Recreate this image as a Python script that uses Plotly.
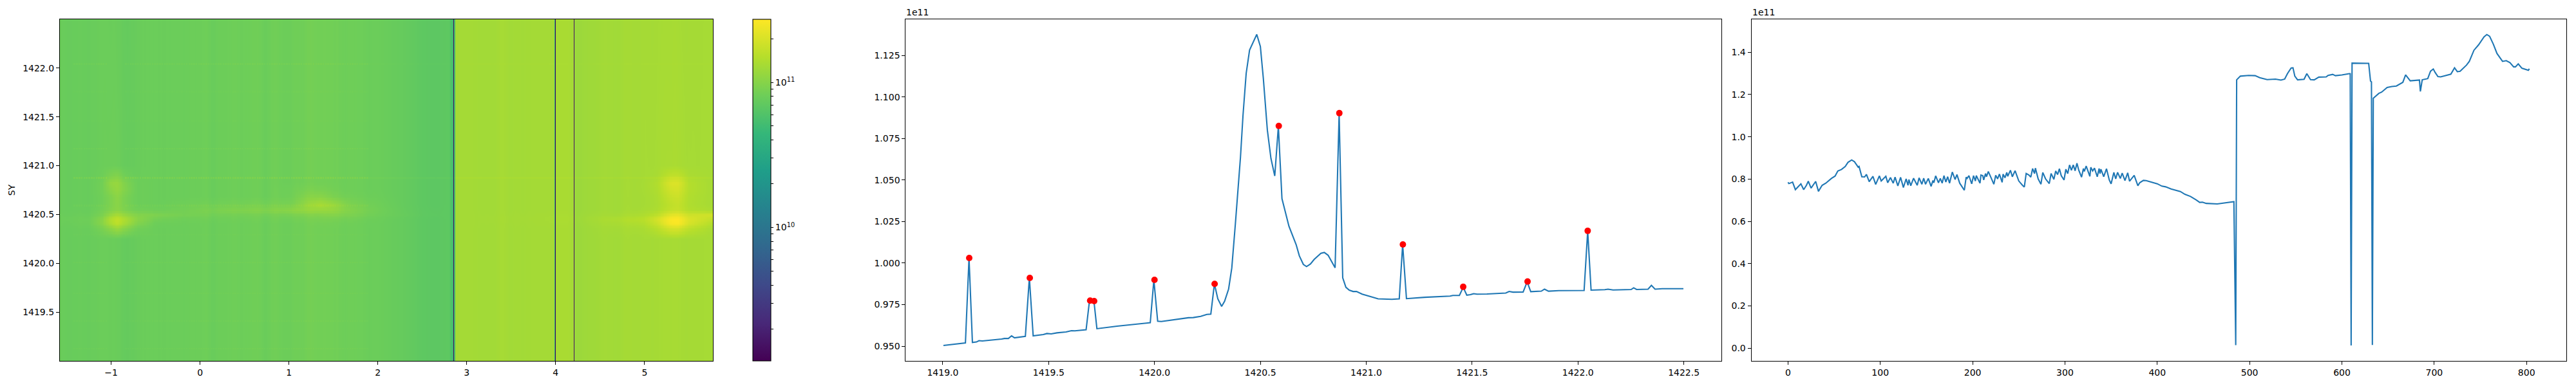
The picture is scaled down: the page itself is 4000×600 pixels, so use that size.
import numpy as np
import plotly.graph_objects as go

# ---------- column profile (middle panel), values in units of 1e11 ----------
col_x = [1419.003,1419.107,1419.124,1419.14,1419.159,1419.171,1419.187,1419.231,1419.278,1419.291,1419.31,1419.325,1419.339,1419.39,1419.409,1419.427,1419.475,1419.492,1419.512,1419.539,1419.582,1419.608,1419.624,1419.677,1419.693,1419.714,1419.728,1419.823,1419.98,1419.997,1420.015,1420.032,1420.16,1420.183,1420.218,1420.247,1420.266,1420.283,1420.299,1420.317,1420.331,1420.35,1420.365,1420.382,1420.393,1420.406,1420.418,1420.424,1420.433,1420.449,1420.483,1420.5,1420.514,1420.533,1420.55,1420.568,1420.585,1420.602,1420.635,1420.669,1420.684,1420.703,1420.718,1420.737,1420.754,1420.786,1420.802,1420.82,1420.853,1420.872,1420.889,1420.904,1420.92,1420.938,1420.954,1420.981,1421.005,1421.028,1421.056,1421.09,1421.121,1421.156,1421.172,1421.19,1421.276,1421.396,1421.409,1421.44,1421.458,1421.475,1421.492,1421.508,1421.523,1421.57,1421.659,1421.675,1421.693,1421.741,1421.76,1421.777,1421.827,1421.842,1421.861,1421.91,1422.029,1422.046,1422.062,1422.127,1422.142,1422.166,1422.251,1422.263,1422.277,1422.331,1422.347,1422.364,1422.398,1422.498]
col_v = [.9504,.9519,1.0031,.9522,.9525,.9533,.9531,.9536,.9543,.9546,.9546,.9562,.9550,.9559,.9911,.9562,.9570,.9576,.9574,.9580,.9585,.9593,.9592,.9599,.9774,.9771,.9605,.9620,.9641,.9899,.9650,.9648,.9671,.9672,.9679,.9691,.9693,.9875,.9785,.9739,.9770,.9844,.9970,1.0237,1.0415,1.0637,1.0890,1.1008,1.1142,1.1283,1.1377,1.1305,1.1112,1.0801,1.0630,1.0525,1.0823,1.0388,1.0222,1.0111,1.0044,.9992,.9979,.9995,1.0022,1.0059,1.0064,1.0047,.9972,1.0901,.9911,.9854,.9837,.9829,.9829,.9813,.9805,.9795,.9785,.9783,.9782,.9785,1.0111,.9786,.9794,.9801,.9805,.9805,.9854,.9807,.9810,.9816,.9813,.9814,.9820,.9829,.9825,.9826,.9887,.9828,.9831,.9843,.9831,.9834,.9835,1.0193,.9837,.9840,.9843,.9838,.9841,.9851,.9841,.9843,.9866,.9843,.9846,.9846]

# ---------- detected peaks (red dots) ----------
peak_x = [1419.125,1419.411,1419.696,1419.715,1420.0,1420.284,1420.587,1420.873,1421.173,1421.458,1421.762,1422.046]
peak_v = [1.0031,.9911,.9774,.9771,.9899,.9875,1.0826,1.0903,1.0112,.9857,.9889,1.0194]

# ---------- row profile (right panel), values in units of 1e11 ----------
row_x = [0,1,5,8,14,17,20,22,25,30,33,37,41,47,51,54,58,62,65,69,72,76,77,80,83,85,88,92,95,99,101,106,108,111,114,116,119,122,125,128,130,131,133,136,140,142,145,147,149,
152,155,157,158,160,163,165,167,169,171,173,175,178,181,183,186,191,193,194,196,199,201,203,204,208,209,211,212,214,215,217,220,223,225,227,229,232,233,235,237,238,241,243,246,250,254,256,258,261,263,265,267,268,271,274,276,279,283,285,288,290,292,
294,296,299,301,303,305,307,309,311,313,315,318,320,321,323,327,328,330,332,335,337,338,339,342,345,348,350,353,355,357,360,362,365,368,370,375,379,381,385,388,392,396,400,405,409,415,425,430,436,
442,446,449,453,465,475,483,485,486,490,499,506,511,519,528,534,538,541,545,547,549,552,559,562,566,570,575,583,585,590,593,600,606,608,609,610,611,612,629,631,632,633,634,640,643,649,654,659,666,669,671,674,684,685,687,693,696,699,701,704,707,718,722,725,728,735,738,743,748,754,757,760,764,768,774,778,782,786,788,791,795,802,803]
row_v = [.7846,.7786,.7857,.7501,.7775,.7501,.7704,.7897,.7572,.7887,.7420,.7704,.7806,.8029,.8141,.8384,.8455,.8597,.8790,.8901,.8820,.8567,.8597,.8110,.8100,.8222,.7877,.8130,.7745,.8151,.7908,.8130,.7826,.8069,.7806,.8090,.7674,.8080,.7603,.8009,.7704,.7978,.7684,.8039,.7704,.8059,.7755,.8039,.7755,
.8029,.7654,.7928,.7826,.8151,.7826,.8029,.7806,.8161,.7857,.8110,.7806,.8333,.7979,.8212,.7806,.7471,.8090,.8029,.8161,.7775,.8161,.7908,.8161,.7806,.8191,.8161,.7958,.8263,.8110,.8354,.8060,.7755,.8181,.8009,.8232,.7846,.8232,.8060,.8313,.8130,.8415,.8110,.8394,.7908,.7705,.7623,.8262,.8191,.8090,.8496,.8262,.8516,.8009,.7755,.8313,.8009,.7786,.8262,.7989,.8384,.8211,
.8486,.8161,.7958,.8465,.8262,.8668,.8415,.8668,.8394,.8749,.8415,.8090,.8496,.8364,.8617,.8130,.8557,.8384,.8516,.8110,.8496,.8262,.8465,.8110,.8486,.7958,.7775,.8313,.8009,.8313,.8029,.8283,.7928,.8293,.7897,.8171,.7684,.7826,.7938,.7928,.7877,.7847,.7776,.7664,.7633,.7532,.7410,.7278,.7177,
.7015,.6895,.6907,.6848,.6825,.6883,.6930,.0140,1.2695,1.2870,1.2905,1.2893,1.2800,1.2707,1.2730,1.2684,1.2730,1.2986,1.3254,1.3265,1.2870,1.2695,1.2719,1.2986,1.2707,1.2695,1.2823,1.2835,1.2905,1.2952,1.2893,1.2928,1.2986,1.2986,1.2986,.0128,1.3487,1.3487,1.3475,1.2637,1.2600,.0151,1.1822,1.2055,1.2113,1.2334,1.2381,1.2404,1.2579,1.2928,1.2812,1.2649,1.2684,1.2148,1.2695,1.2754,1.3103,1.3207,1.3044,1.2847,1.2835,1.2963,1.3266,1.3080,1.3103,1.3394,1.3569,1.4093,1.4349,1.4733,1.4838,1.4757,1.4384,1.3941,1.3569,1.3603,1.3510,1.3312,1.3312,1.3452,1.3243,1.3149,1.3219]

# ---------- image: percent of the row profile on a coarse grid ----------
img_x_min, img_x_max = -1.577, 5.769
img_y_min, img_y_max = 1419.0, 1422.5
grid_x = [-1.58,-1.25,-1.1,-1.0,-.93,-.85,-.7,-.5,-.2,.3,.8,1.05,1.2,1.35,1.5,1.7,2.0,2.3,2.85,2.86,4.3,4.7,5.0,5.15,5.3,5.38,5.5,5.77]
grid_y = [1419.0,1420.25,1420.36,1420.41,1420.45,1420.49,1420.54,1420.6,1420.68,1420.76,1420.82,1420.9,1421.0,1422.5]
grid_pct = [
 [100,100,96,90,88,90,97,100,100,100,100,100,100,100,100,100,100,100,100,100,100,100,100,97,90,90,95,100],
 [100,100,96,90,88,90,97,100,100,100,100,100,100,100,100,100,100,100,100,100,100,100,100,97,90,90,95,100],
 [100,102,108,122,135,125,105,100,100,100,100,100,100,100,100,100,100,100,100,100,100,102,104,115,135,135,118,102],
 [101,105,122,158,180,160,120,102,101,100,100,100,101,102,102,101,100,100,100,100,101,106,112,135,178,182,145,112],
 [102,106,122,165,185,168,128,108,103,102,102,103,104,106,106,104,101,100,100,100,102,110,118,145,182,185,150,125],
 [101,103,110,135,150,140,122,118,110,106,106,110,112,115,118,112,104,102,100,100,101,103,108,120,150,155,135,142],
 [100,101,104,112,118,114,106,105,108,116,120,130,135,138,135,118,106,101,100,100,100,100,102,105,115,118,108,105],
 [100,100,100,108,116,110,100,100,104,106,108,112,135,155,140,112,104,100,100,100,100,100,100,102,110,115,104,100],
 [100,100,100,108,118,110,100,100,100,100,100,104,118,122,110,103,101,100,100,100,100,100,100,103,118,122,105,100],
 [100,100,102,120,128,118,100,100,100,100,100,102,106,106,102,100,100,100,100,100,100,100,101,106,130,132,108,100],
 [100,100,102,128,130,116,100,100,100,100,100,100,101,101,100,100,100,100,100,100,100,100,101,108,140,140,108,100],
 [100,100,98,105,108,100,98,100,100,100,100,100,100,100,100,100,100,100,100,100,100,100,100,100,110,110,100,100],
 [100,100,96,92,90,92,97,100,100,100,100,100,100,100,100,100,100,100,100,100,100,100,100,98,92,92,96,100],
 [100,100,96,90,88,90,97,100,100,100,100,100,100,100,100,100,100,100,100,100,100,100,100,97,90,90,95,100],
]
# faint horizontal streaks at the peak rows: gain on the left part, gain on the right part
streak_y = [1419.125,1419.411,1419.696,1420.0,1420.284,1420.587,1420.873,1421.173,1421.458,1421.762,1422.046]
streak_left = [1.04,1.04,1.03,1.04,1.02,1.05,1.13,1.06,1.02,1.02,1.05]
streak_right = [1.0,1.0,1.0,1.0,1.0,1.0,1.035,1.0,1.0,1.0,1.01]
# dark one-column gaps in the image and their softer neighbours
gap_cols = [484, 609, 632]
gap_vals = [.0140, .0128, .0151]
edge_cols = [485, 608]
edge_vals = [.54, .31]

n_cols, n_rows = 803, 210
cols = np.arange(n_cols)
cell_x = img_x_min + (cols + .5) * (img_x_max - img_x_min) / n_cols
cell_y = img_y_min + (np.arange(n_rows) + .5) * (img_y_max - img_y_min) / n_rows
profile = np.interp(cols + 1, row_x, row_v)
# the image stripes are much softer than the profile's zigzag: average within each segment between gaps
base = profile.copy()
starts = [0] + [g + 1 for g in gap_cols]
stops = gap_cols + [n_cols]
for a, b in zip(starts, stops):
    seg = profile[a:b]
    pad = np.r_[[seg[0]] * 4, seg, [seg[-1]] * 4]
    base[a:b] = np.convolve(pad, np.ones(9) / 9, mode="valid")
base[gap_cols] = gap_vals
base[edge_cols] = edge_vals
pct_cols = np.array([np.interp(cell_x, grid_x, r) for r in grid_pct])
pct = np.array([np.interp(cell_y, grid_y, pct_cols[:, c]) for c in range(n_cols)]).T
z = base * pct / 100
for sy, gl, gr in zip(streak_y, streak_left, streak_right):
    r = int((sy - img_y_min) / (img_y_max - img_y_min) * n_rows)
    left = ((cell_x > -1.42) & (cell_x < -1.05) | (cell_x > -.85) & (cell_x < 1.9)) & (cols % 3 != 1)
    z[r, left] *= gl
    z[r, cell_x > 1.9] *= gr
z[:, gap_cols] = np.array(gap_vals)
log_z = np.round(np.log10(z * 1e11), 3)

C_MIN, C_MAX = 9.08, 11.435
minor = [np.log10(m * 10.0 ** e) for e in (9, 10) for m in range(2, 10)] + [np.log10(2e11)]
minor = [round(v, 4) for v in minor if v > C_MIN]
cb_vals = minor + [10, 11]
cb_text = [""] * len(minor) + ["10<sup>10</sup>", "10<sup>11</sup>"]

W, H = 4000, 600
TOP, BOT = 30, 561
FONT = "DejaVu Sans"
BLUE = "#1f77b4"

fig = go.Figure()
fig.add_trace(go.Heatmap(
    z=log_z, x=cell_x, y=cell_y, colorscale="Viridis", zmin=C_MIN, zmax=C_MAX, hoverinfo="skip",
    colorbar=dict(x=1169 / W, xanchor="left", xpad=0, y=.5075, yanchor="middle", ypad=0, len=(BOT - TOP) / H,
                  thickness=28, thicknessmode="pixels", outlinewidth=1.1, outlinecolor="black",
                  tickvals=cb_vals, ticktext=cb_text, ticks="outside", ticklen=4, tickwidth=1, tickcolor="black",
                  tickfont=dict(family=FONT, size=14, color="black")),
    xaxis="x", yaxis="y"))
fig.add_trace(go.Scatter(x=col_x, y=col_v, mode="lines", line=dict(color=BLUE, width=2.08), xaxis="x2", yaxis="y2", showlegend=False))
fig.add_trace(go.Scatter(x=peak_x, y=peak_v, mode="markers", marker=dict(color="red", size=10), xaxis="x2", yaxis="y2", showlegend=False))
fig.add_trace(go.Scatter(x=row_x, y=row_v, mode="lines", line=dict(color=BLUE, width=2.08), xaxis="x3", yaxis="y3", showlegend=False))

ax = dict(showline=True, mirror=True, linecolor="black", linewidth=1.1, ticks="outside", ticklen=5, tickwidth=1.1,
          tickcolor="black", showgrid=False, zeroline=False, tickfont=dict(family=FONT, size=14, color="black"))
ydom = [1 - BOT / H, 1 - TOP / H]
fig.update_layout(
    width=W, height=H, autosize=False, margin=dict(l=0, r=0, t=0, b=0), plot_bgcolor="white", paper_bgcolor="white",
    showlegend=False,
    xaxis=dict(ax, domain=[93 / W, 1107 / W], range=[img_x_min, img_x_max], tickvals=[-1, 0, 1, 2, 3, 4, 5],
               ticktext=["\u22121", "0", "1", "2", "3", "4", "5"], anchor="y"),
    yaxis=dict(ax, domain=ydom, range=[img_y_min, img_y_max], tickvals=[1419.5, 1420, 1420.5, 1421, 1421.5, 1422],
               tickformat=".1f", anchor="x", title=dict(text="SY", standoff=8, font=dict(family=FONT, size=14, color="black"))),
    xaxis2=dict(ax, domain=[1406.4 / W, 2672.5 / W], range=[1418.825, 1422.676], tickvals=[1419, 1419.5, 1420, 1420.5, 1421, 1421.5, 1422, 1422.5],
                tickformat=".1f", anchor="y2"),
    yaxis2=dict(ax, domain=ydom, range=[.9411, 1.1468], tickvals=[.95, .975, 1.0, 1.025, 1.05, 1.075, 1.1, 1.125],
                tickformat=".3f", anchor="x2"),
    xaxis3=dict(ax, domain=[2719.6 / W, 3985 / W], range=[-39.6, 843.1], tickvals=[0, 100, 200, 300, 400, 500, 600, 700, 800], anchor="y3"),
    yaxis3=dict(ax, domain=ydom, range=[-.0606, 1.556], tickvals=[0, .2, .4, .6, .8, 1.0, 1.2, 1.4], tickformat=".1f", anchor="x3"),
    annotations=[
        dict(text="1e11", xref="paper", yref="paper", x=1406.4 / W, y=1 - 28 / H, xanchor="left", yanchor="bottom", showarrow=False,
             font=dict(family=FONT, size=14, color="black"), borderpad=0),
        dict(text="1e11", xref="paper", yref="paper", x=2719.6 / W, y=1 - 28 / H, xanchor="left", yanchor="bottom", showarrow=False,
             font=dict(family=FONT, size=14, color="black"), borderpad=0),
    ],
)
fig.write_html("out.html", config={"displayModeBar": False}, post_script="document.body.style.margin='0';")
